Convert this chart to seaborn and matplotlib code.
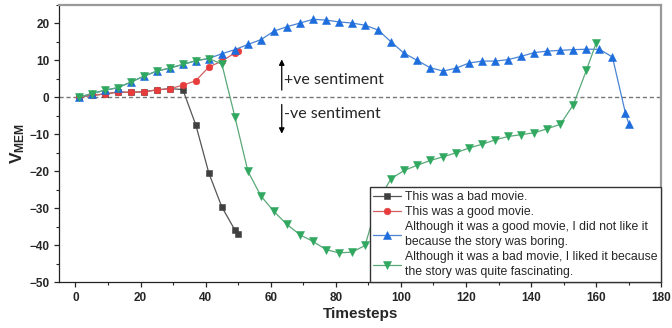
import numpy as np
import pandas as pd
import matplotlib
matplotlib.use("Agg")
import matplotlib.pyplot as plt
from matplotlib.ticker import MultipleLocator
import seaborn as sns

# timesteps
t_short = [1, 5, 9, 13, 17, 21, 25, 29, 33, 37, 41, 45, 49, 50]
t_blue = list(range(1, 170, 4)) + [170]
t_green = list(range(1, 158, 4)) + [160]

bad = [0.1, 0.5, 0.9, 1.4, 1.35, 1.5, 2.0, 2.35, 2.1, -7.5, -20.5, -29.7, -35.9, -36.9]
good = [0.1, 0.5, 0.9, 1.4, 1.35, 1.5, 2.0, 2.35, 3.25, 4.5, 8.2, 9.8, 12.0, 12.5]
good_notlike = [0, 1.0, 1.9, 2.6, 4.1, 5.7, 7.1, 7.9, 8.9, 9.9,
                10.5, 11.8, 12.9, 14.3, 15.6, 17.9, 19.1, 20.1, 21.1, 20.9,
                20.4, 20.1, 19.5, 18.2, 15.0, 11.9, 10.0, 8.0, 7.1, 7.9,
                9.3, 9.8, 9.8, 10.2, 11.1, 12.1, 12.5, 12.7, 12.9, 13.0,
                13.0, 10.9, -4.3, -7.1]
bad_liked = [0, 1.0, 1.9, 2.6, 4.1, 5.7, 7.1, 7.9, 8.9, 9.9,
             10.5, 9.0, -5.3, -20.0, -26.7, -30.9, -34.4, -37.2, -39.0, -41.2,
             -42.1, -41.9, -40.1, -28.0, -22.0, -19.8, -18.4, -17.1, -16.1, -15.0,
             -13.7, -12.7, -11.5, -10.6, -10.1, -9.6, -8.5, -7.3, -2.0, 7.3,
             14.7]

labels = ["This was a bad movie.",
          "This was a good movie.",
          "Although it was a good movie, I did not like it\nbecause the story was boring.",
          "Although it was a bad movie, I liked it because\nthe story was quite fascinating."]

sns.set_style("ticks")
plt.rcParams['font.family'] = ['Liberation Sans', 'DejaVu Sans']
plt.rcParams['mathtext.fontset'] = 'custom'
plt.rcParams['mathtext.bf'] = 'Liberation Sans:bold'
plt.rcParams['mathtext.rm'] = 'Liberation Sans'

fig, ax = plt.subplots(figsize=(6.72, 3.28), dpi=100)
fig.subplots_adjust(left=0.088, right=0.984, top=0.985, bottom=0.14)

ax.axhline(0, color='#777777', lw=1, ls=(0, (3, 2)), zorder=1)

series = [
    (t_short, bad, '#404040', '#555555', 's', 4.2),
    (t_short, good, '#e83c3c', '#d06060', 'o', 4.8),
    (t_blue, good_notlike, '#1e6ddc', '#4a84d4', '^', 5.3),
    (t_green, bad_liked, '#30a860', '#5aa878', 'v', 5.3),
]
for (tx, vy, mc, lc, mk, ms), lab in zip(series, labels):
    df = pd.DataFrame({'t': tx, 'v': vy})
    sns.lineplot(data=df, x='t', y='v', ax=ax, color=lc, lw=0.9,
                 marker=mk, markersize=ms, markerfacecolor=mc,
                 markeredgecolor=mc, markeredgewidth=0.4,
                 estimator=None, sort=False, label=lab)

# sentiment arrows
ax.annotate('', xy=(63.4, 11), xytext=(63.4, 1.2),
            arrowprops=dict(arrowstyle='-|>', color='black', lw=0.9, mutation_scale=8))
ax.annotate('', xy=(63.4, -10.6), xytext=(63.4, -1.2),
            arrowprops=dict(arrowstyle='-|>', color='black', lw=0.9, mutation_scale=8))
ax.text(64.0, 4.6, '+ve sentiment', fontsize=11.5, family='Lato', va='center')
ax.text(64.0, -4.4, '-ve sentiment', fontsize=11.5, family='Lato', va='center')

ax.set_xlim(-5, 180)
ax.set_ylim(-50, 25)
ax.xaxis.set_major_locator(MultipleLocator(20))
ax.xaxis.set_minor_locator(MultipleLocator(10))
ax.yaxis.set_major_locator(MultipleLocator(10))
ax.yaxis.set_minor_locator(MultipleLocator(5))
ax.tick_params(which='major', length=3.5, width=0.9, direction='out', labelsize=8.5)
ax.tick_params(which='minor', length=2, width=0.8, direction='out')
for lab in ax.get_xticklabels() + ax.get_yticklabels():
    lab.set_fontweight('bold')

ax.set_xlabel('Timesteps', fontsize=11, fontweight='bold', labelpad=2)
ax.set_ylabel(r'$\mathbf{V_{MEM}}$', fontsize=12.5, labelpad=2)

for s in ['left', 'bottom']:
    ax.spines[s].set_color('#222222')
    ax.spines[s].set_linewidth(0.9)
for s in ['top', 'right']:
    ax.spines[s].set_visible(True)
    ax.spines[s].set_color('#999999')
    ax.spines[s].set_linewidth(1.6)

leg = ax.legend(loc='lower right', borderaxespad=0, fontsize=8.8, frameon=True,
                fancybox=False, framealpha=1, edgecolor='#333333',
                labelspacing=0.25, handlelength=2.3, handletextpad=0.3,
                borderpad=0.3)
for t in leg.get_texts():
    t.set_linespacing(1.35)
leg.get_frame().set_linewidth(1.0)
leg.set_zorder(5)

fig.savefig('out.png', dpi=100)
